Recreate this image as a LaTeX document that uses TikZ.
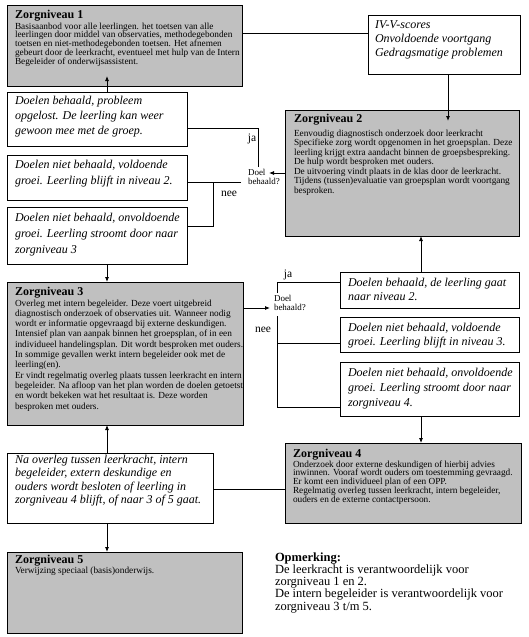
\documentclass[tikz,border=0pt]{standalone}
\usepackage{fontspec}
\setmainfont{Liberation Serif}
\usetikzlibrary{arrows.meta}
\definecolor{zgray}{RGB}{192,192,192}
\newcommand\tb[1]{\parbox[t]{300pt}{\raggedright #1}}
\begin{document}
\lineskiplimit=-20pt\relax
\begin{tikzpicture}[x=1pt,y=-1pt,
  box/.style={draw, line width=0.8pt, inner sep=0pt, outer sep=0pt, anchor=north west},
  gbox/.style={box, fill=zgray},
  wbox/.style={box, fill=white},
  txt/.style={inner sep=0pt, outer sep=0pt, anchor=base west},
  ttl/.style={txt, font=\fontsize{12}{14}\selectfont\bfseries},
  body/.style={txt, font=\fontsize{9.3}{#1}\selectfont},
  ital/.style={txt, font=\fontsize{12}{#1}\selectfont\itshape},
  lbl/.style={inner sep=0pt, font=\fontsize{11.5}{13}\selectfont},
  doel/.style={txt, font=\fontsize{9}{9.5}\selectfont},
  ln/.style={draw, line width=0.8pt},
  arr/.style={ln, -{Latex[length=5pt,width=4pt]}},
]
\useasboundingbox (0,0) rectangle (529,637);
\fill[white] (0,0) rectangle (529,637);

% ---------- boxes ----------
\node[gbox, minimum width=235pt, minimum height=81pt] (z1) at (7,5) {};
\node[wbox, minimum width=152pt, minimum height=59pt] (iv) at (368,15) {};
\node[gbox, minimum width=234pt, minimum height=126pt] (z2) at (285,110) {};
\node[wbox, minimum width=180pt, minimum height=54pt] (bA) at (7,92) {};
\node[wbox, minimum width=180pt, minimum height=45pt] (bB) at (7,155) {};
\node[wbox, minimum width=180pt, minimum height=57pt] (bC) at (7,207) {};
\node[gbox, minimum width=236pt, minimum height=143pt] (z3) at (7,282) {};
\node[wbox, minimum width=179pt, minimum height=36pt] (r1) at (340,272) {};
\node[wbox, minimum width=179pt, minimum height=35pt] (r2) at (340,317) {};
\node[wbox, minimum width=179pt, minimum height=54pt] (r3) at (340,362) {};
\node[gbox, minimum width=236pt, minimum height=80pt] (z4) at (285,443) {};
\node[wbox, minimum width=206pt, minimum height=70pt] (na) at (7,453) {};
\node[gbox, minimum width=235pt, minimum height=81pt] (z5) at (7,552) {};

% ---------- texts ----------
\node[ttl] (t1) at (15,18) {Zorgniveau 1};
\node[body=8.8] (b1) at (15,29) {\tb{Basisaanbod voor alle leerlingen. het toetsen van alle\\leerlingen door middel van observaties, methodegebonden\\toetsen en niet-methodegebonden toetsen. Het afnemen\\gebeurt door de leerkracht, eventueel met hulp van de Intern\\Begeleider of onderwijsassistent.}};

\node[ital=14] (tiv) at (375,28) {\tb{IV-V-scores\\Onvoldoende voortgang\\Gedragsmatige problemen}};

\node[ttl] (t2) at (294,122) {Zorgniveau 2};
\node[body=9.55] (b2) at (294,136) {\tb{Eenvoudig diagnostisch onderzoek door leerkracht\\Specifieke zorg wordt opgenomen in het groepsplan. Deze\\leerling krijgt extra aandacht binnen de groepsbespreking.\\De hulp wordt besproken met ouders.\\De uitvoering vindt plaats in de klas door de leerkracht.\\Tijdens (tussen)evaluatie van groepsplan wordt voortgang\\besproken.}};

\node[ital=15] (tA) at (15,104.3) {\tb{Doelen behaald, probleem\\opgelost. De leerling kan weer\\gewoon mee met de groep.}};
\node[ital=15.7] (tB) at (15,168.3) {\tb{Doelen niet behaald, voldoende\\groei. Leerling blijft in niveau 2.}};
\node[ital=16] (tC) at (15,221) {\tb{Doelen niet behaald, onvoldoende\\groei. Leerling stroomt door naar\\zorgniveau 3}};

\node[ttl] (t3) at (15,295) {Zorgniveau 3};
\node[body=10.3] (b3) at (15,306) {\tb{Overleg met intern begeleider. Deze voert uitgebreid\\diagnostisch onderzoek of observaties uit. Wanneer nodig\\wordt er informatie opgevraagd bij externe deskundigen.\\Intensief plan van aanpak binnen het groepsplan, of in een\\individueel handelingsplan. Dit wordt besproken met ouders.\\In sommige gevallen werkt intern begeleider ook met de\\leerling(en).\\Er vindt regelmatig overleg plaats tussen leerkracht en intern\\begeleider. Na afloop van het plan worden de doelen getoetst\\en wordt bekeken wat het resultaat is. Deze worden\\besproken met ouders.}};

\node[ital=14.5] (tr1) at (348,286) {\tb{Doelen behaald, de leerling gaat\\naar niveau 2.}};
\node[ital=14.5] (tr2) at (348,331) {\tb{Doelen niet behaald, voldoende\\groei. Leerling blijft in niveau 3.}};
\node[ital=15] (tr3) at (348,376) {\tb{Doelen niet behaald, onvoldoende\\groei. Leerling stroomt door naar\\zorgniveau 4.}};

\node[ttl] (t4) at (293,457) {Zorgniveau 4};
\node[body=8.9] (b4) at (293,467) {\tb{Onderzoek door externe deskundigen of hierbij advies\\inwinnen. Vooraf wordt ouders om toestemming gevraagd.\\Er komt een individueel plan of een OPP.\\Regelmatig overleg tussen leerkracht, intern begeleider,\\ouders en de externe contactpersoon.}};

\node[ital=13.4] (tna) at (15,463.3) {\tb{Na overleg tussen leerkracht, intern\\begeleider, extern deskundige en\\ouders wordt besloten of leerling in\\zorgniveau 4 blijft, of naar 3 of 5 gaat.}};

\node[ttl] (t5) at (15,563) {Zorgniveau 5};
\node[body=9] (b5) at (15,573) {Verwijzing speciaal (basis)onderwijs.};

\node[txt, font=\fontsize{12.5}{12.3}\selectfont] (opm) at (275,561) {\tb{\textbf{Opmerking:}\\De leerkracht is verantwoordelijk voor\\zorgniveau 1 en 2.\\De intern begeleider is verantwoordelijk voor\\zorgniveau 3 t/m 5.}};

% ---------- decision labels ----------
\node[doel] (doel1) at (248,175) {\tb{Doel\\behaald?}};
\node[doel] (doel2) at (274,301) {\tb{Doel\\behaald?}};
\node[lbl] (ja1) at (252,139) {ja};
\node[lbl] (nee1) at (229,194) {nee};
\node[lbl] (ja2) at (288,275) {ja};
\node[lbl] (nee2) at (263,330) {nee};

% ---------- helper coordinates ----------
\coordinate (cL) at (107,0);
\coordinate (cR) at (421,0);
\coordinate (row1) at (0,33);
\coordinate (z1in) at (107,76);
\coordinate (z2in) at (448,121);
\coordinate (d1tip) at (269,173);
\coordinate (d2tip) at (270,308);
\coordinate (j1) at (258,128);
\coordinate (j1b) at (258,167);
\coordinate (n1a) at (241,182);
\coordinate (n1b) at (213,182);
\coordinate (n1c) at (213,226);
\coordinate (j2) at (277,282);
\coordinate (j2b) at (277,293);
\coordinate (n2a) at (277,316);
\coordinate (n2b) at (277,343);
\coordinate (n2c) at (277,407);
\coordinate (nrow) at (0,489);

% ---------- connectors ----------
\draw[ln] (z1.east |- row1) -- (iv.west |- row1);
\draw[arr] (iv.south -| z2in) -- (z2in);
\draw[arr] (bA.north -| z1in) -- (z1in);
\draw[arr] (z2.west |- d1tip) -- (d1tip);
\draw[ln] (j1b) -- (j1) -- (bA.east |- j1);
\draw[ln] (n1a) -- (bB.east |- n1a);
\draw[ln] (n1b) -- (n1c) -- (bC.east |- n1c);
\draw[arr] (bC.south -| cL) -- (z3.north -| cL);
\draw[arr] (z3.east |- d2tip) -- (d2tip);
\draw[ln] (j2b) -- (j2) -- (r1.west |- j2);
\draw[ln] (n2a) -- (n2c) -- (r3.west |- n2c);
\draw[ln] (n2b) -- (r2.west |- n2b);
\draw[arr] (r1.north -| cR) -- (z2.south -| cR);
\draw[arr] (r3.south -| cR) -- (z4.north -| cR);
\draw[arr] (na.north -| cL) -- (z3.south -| cL);
\draw[ln] (na.east |- nrow) -- (z4.west |- nrow);
\draw[arr] (na.south -| cL) -- (z5.north -| cL);
\end{tikzpicture}
\end{document}
